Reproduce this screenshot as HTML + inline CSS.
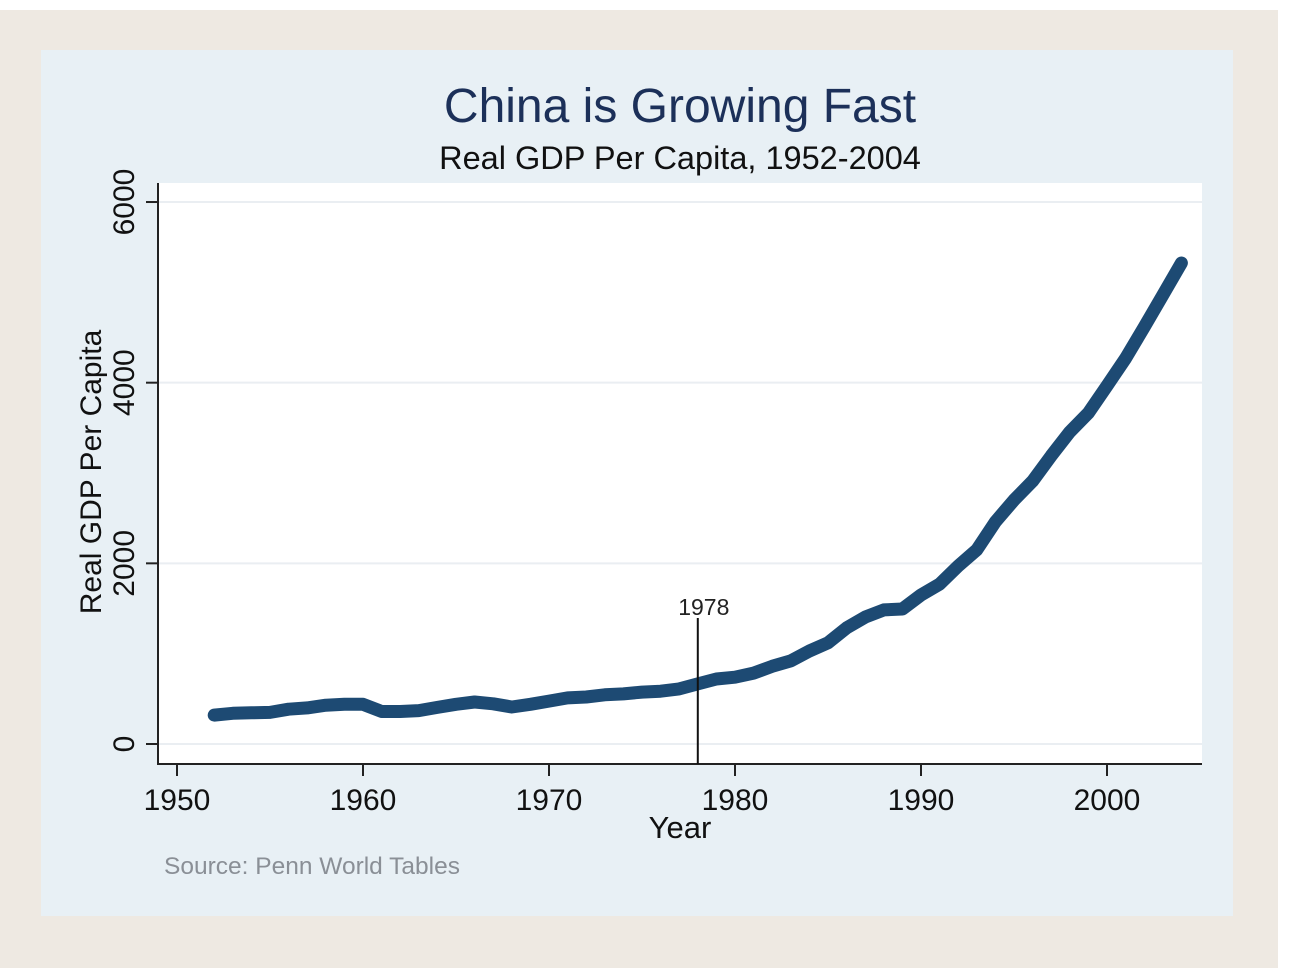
<!DOCTYPE html>
<html><head><meta charset="utf-8"><style>
html,body{margin:0;padding:0;background:#fff;}
svg{display:block;font-family:"Liberation Sans",sans-serif;}
</style></head><body>
<svg id="c" width="1290" height="978" viewBox="0 0 1290 978">
<rect x="0" y="10" width="1278" height="958" fill="#eee9e2"/>
<rect x="41" y="50" width="1192" height="866" fill="#e8f0f5"/>
<rect x="158" y="183" width="1044" height="581" fill="#fff"/>
<text x="680" y="122" text-anchor="middle" font-size="48" fill="#1c3059">China is Growing Fast</text>
<text x="680" y="169" text-anchor="middle" font-size="32.5" fill="#111">Real GDP Per Capita, 1952-2004</text>
<g id="grid"></g>
<g id="axes"></g>
<g id="series"></g>
<text x="680" y="838" text-anchor="middle" font-size="31" fill="#111">Year</text>
<text transform="translate(101,472) rotate(-90)" text-anchor="middle" font-size="30" fill="#111">Real GDP Per Capita</text>
<text x="164" y="874" font-size="24.5" fill="#8a8f96">Source: Penn World Tables</text>
</svg>
<script>
const years=[1952,1953,1954,1955,1956,1957,1958,1959,1960,1961,1962,1963,1964,1965,1966,1967,1968,1969,1970,1971,1972,1973,1974,1975,1976,1977,1978,1979,1980,1981,1982,1983,1984,1985,1986,1987,1988,1989,1990,1991,1992,1993,1994,1995,1996,1997,1998,1999,2000,2001,2002,2003,2004];
const gdp=[320,340,345,350,385,400,430,440,440,360,360,370,405,440,465,445,410,440,475,510,520,545,555,575,585,610,665,720,740,785,860,920,1030,1120,1285,1405,1485,1495,1650,1770,1970,2150,2460,2700,2910,3190,3455,3665,3965,4270,4615,4970,5325];
const xTicks=[1950,1960,1970,1980,1990,2000];
const yTicks=[0,2000,4000,6000];
const markerYear=1978;
const NS="http://www.w3.org/2000/svg";
const X=v=>177+(v-1950)*18.6;
const Y=v=>744-v*0.09033;
function mk(t,a,p){const e=document.createElementNS(NS,t);for(const k in a)e.setAttribute(k,a[k]);p.appendChild(e);return e;}
const grid=document.getElementById('grid'),axes=document.getElementById('axes'),series=document.getElementById('series');
yTicks.forEach(v=>{
 const g=mk('line',{x1:158,x2:1202,y1:Y(v),y2:Y(v),stroke:'#eaeef2','stroke-width':2},grid);
 
 
 const t=mk('line',{x1:146,x2:158,y1:Y(v),y2:Y(v),stroke:'#222','stroke-width':2},axes);
 
 
 const l=mk('text',{transform:`translate(134,${Y(v)}) rotate(-90)`,'text-anchor':'middle','font-size':30,fill:'#111'},axes);
 l.textContent=v;
 
 
});
xTicks.forEach(v=>{
 const t=mk('line',{x1:X(v),x2:X(v),y1:764,y2:776,stroke:'#222','stroke-width':2},axes);
 
 
 const l=mk('text',{x:X(v),y:810,'text-anchor':'middle','font-size':30,fill:'#111'},axes);
 l.textContent=v;
 
 
});
const ya=mk('line',{x1:158,x2:158,y1:183,y2:765,stroke:'#222','stroke-width':2},axes);


const xa=mk('line',{x1:157,x2:1202,y1:764,y2:764,stroke:'#222','stroke-width':2},axes);


const pts=years.map((y,i)=>X(y).toFixed(1)+','+Y(gdp[i]).toFixed(1)).join(' ');
const pl=mk('polyline',{points:pts,fill:'none',stroke:'#1d4a73','stroke-width':13,'stroke-linejoin':'round','stroke-linecap':'round'},series);


const ml=mk('line',{x1:X(markerYear),x2:X(markerYear),y1:618,y2:764,stroke:'#111','stroke-width':2},series);


const mt=mk('text',{x:X(markerYear)+6,y:615,'text-anchor':'middle','font-size':23,fill:'#222'},series);
mt.textContent=markerYear;


</script>
</body></html>
